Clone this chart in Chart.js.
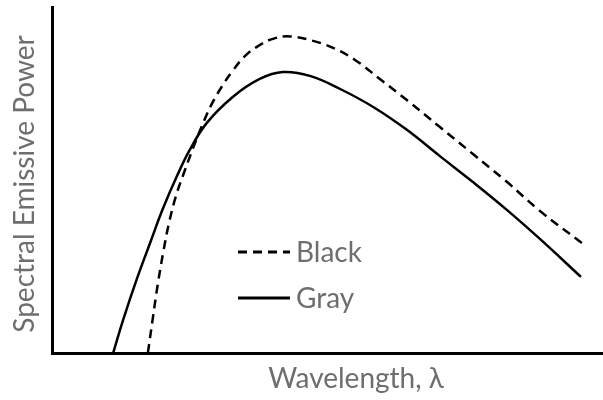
<!DOCTYPE html>
<html>
<head>
<meta charset="utf-8">
<script src="https://cdn.jsdelivr.net/npm/chart.js@4"></script>
<style>
  html, body { margin: 0; padding: 0; background: #fff; }
  #wrap { width: 603px; height: 400px; position: relative; }
</style>
</head>
<body>
<div id="wrap"><canvas id="grafiek"></canvas></div>
<script>
// Golflengte (x) en vermogen (y), willekeurige eenheden 0..100
const grijsX = [11.1, 12.9, 15.4, 17.8, 20.1, 22.7, 25.0, 28.1, 32.8, 37.7, 41.9, 46.8, 52.3, 58.3, 64.4, 70.4, 76.4, 82.6, 88.6, 96.0];
const grijsY = [0, 9.5, 21.4, 31.8, 41.6, 51.2, 58.7, 66.5, 74.0, 79.2, 81.2, 80.1, 76.3, 71.1, 64.5, 56.9, 49.4, 41.3, 32.9, 22.0];

const zwartX = [17.4, 18.3, 19.2, 20.2, 21.2, 22.5, 24.0, 25.6, 27.2, 29.0, 30.9, 32.9, 35.0, 37.4, 40.1, 43.2, 47.4, 51.0, 55.0, 59.5, 64.4, 70.4, 76.4, 82.6, 88.6, 96.4];
const zwartY = [0, 10.1, 19.9, 29.2, 37.3, 45.4, 52.3, 59.2, 65.6, 72.0, 77.2, 81.8, 85.8, 88.7, 90.8, 91.5, 90.2, 88.2, 84.7, 79.2, 73.1, 65.3, 57.5, 49.4, 41.0, 31.5];

const LABELS = ["Black", "Gray"];
const TITEL_X = "Wavelength, \u03bb";
const TITEL_Y = "Spectral Emissive Power";

const FONT = "Lato";
const GRIJS_TEKST = "#6e6e6e";

function punten(xs, ys) { return xs.map((x, i) => ({ x: x, y: ys[i] })); }

// assentitels en legende zelf tekenen
const tekstPlugin = {
    id: 'tekst',
    afterDraw(chart) {
        const ctx = chart.ctx;
        ctx.save();
        ctx.fillStyle = GRIJS_TEKST;
        ctx.font = `28px ${FONT}`;
        ctx.textAlign = 'center';
        ctx.textBaseline = 'alphabetic';
        ctx.fillText(TITEL_X, 356, 388);

        ctx.save();
        ctx.translate(34, 184);
        ctx.rotate(-Math.PI / 2);
        ctx.fillText(TITEL_Y, 0, 0);
        ctx.restore();

        // legende
        const rijen = [{ y: 252, ds: chart.data.datasets[0] }, { y: 298, ds: chart.data.datasets[1] }];
        rijen.forEach(r => {
            ctx.strokeStyle = '#000';
            ctx.lineWidth = 3;
            ctx.setLineDash(r.ds.borderDash || []);
            ctx.beginPath();
            ctx.moveTo(238, r.y);
            ctx.lineTo(290, r.y);
            ctx.stroke();
            ctx.setLineDash([]);
            ctx.textAlign = 'left';
            ctx.textBaseline = 'middle';
            ctx.fillStyle = GRIJS_TEKST;
            ctx.fillText(r.ds.label, 296, r.y + 1);
        });
        ctx.restore();
    }
};

new Chart(document.getElementById('grafiek'), {
    type: 'scatter',
    data: {
        datasets: [
            { label: LABELS[0], data: punten(zwartX, zwartY), showLine: true, borderColor: '#000', borderWidth: 2.5, borderDash: [9, 6], pointRadius: 0, tension: 0.4 },
            { label: LABELS[1], data: punten(grijsX, grijsY), showLine: true, borderColor: '#000', borderWidth: 2.5, pointRadius: 0, tension: 0.4 }
        ]
    },
    options: {
        responsive: true, maintainAspectRatio: false, animation: false,
        layout: { padding: { top: 7, right: 0, left: 0, bottom: 0 } },
        plugins: { legend: { display: false }, tooltip: { enabled: false } },
        scales: {
            x: {
                type: 'linear', min: 0, max: 100,
                grid: { display: false, drawTicks: false },
                ticks: { display: false },
                border: { color: '#000', width: 3 },
                afterFit(s) { s.height = 47; }
            },
            y: {
                type: 'linear', min: 0, max: 100,
                grid: { display: false, drawTicks: false },
                ticks: { display: false },
                border: { color: '#000', width: 3 },
                afterFit(s) { s.width = 52; }
            }
        }
    },
    plugins: [tekstPlugin]
});
</script>
</body>
</html>
